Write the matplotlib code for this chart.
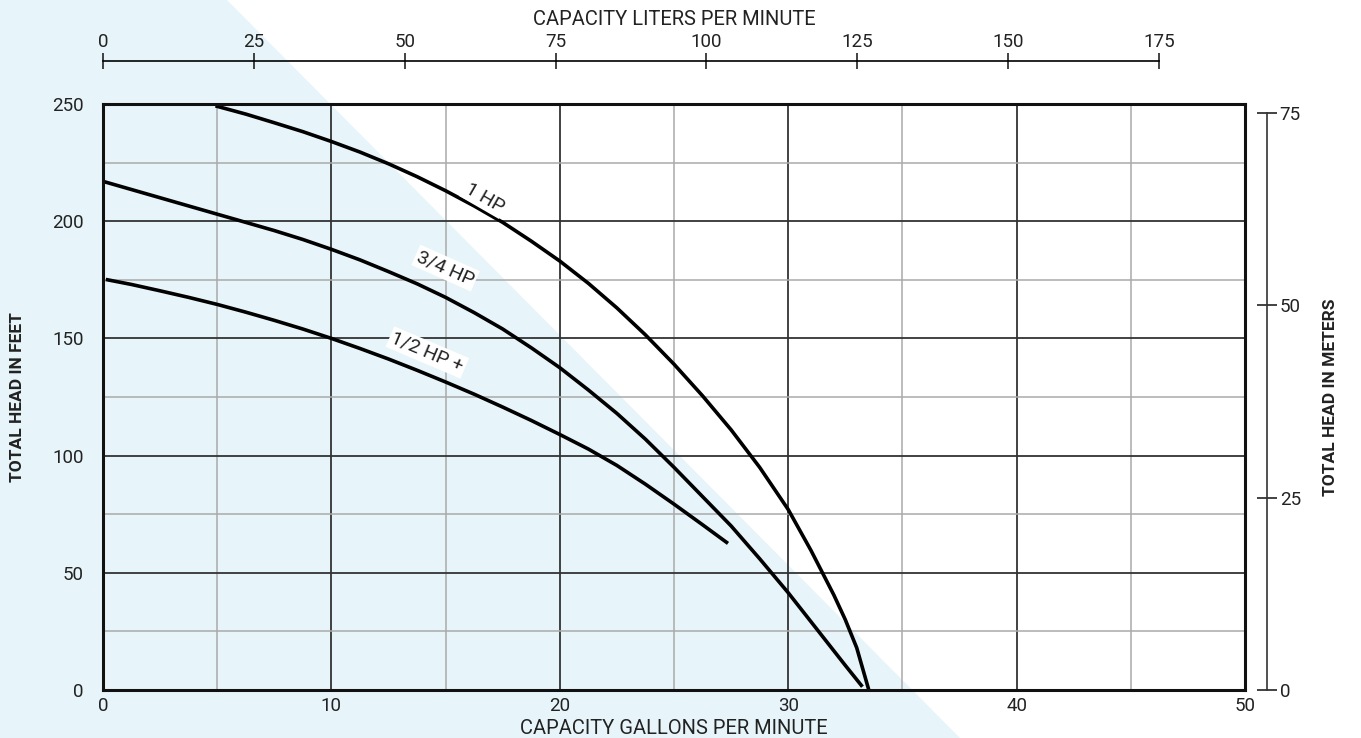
import matplotlib
matplotlib.use("Agg")
import matplotlib.pyplot as plt
from matplotlib.patches import Polygon

plt.rcParams['font.family'] = ['Roboto', 'DejaVu Sans']

# pump curves (gpm, feet)
one_hp_gpm = [5, 6.25, 7.5, 8.75, 10, 11.25, 12.5, 13.75, 15, 16.25, 17.5, 18.75, 20, 21.25,
              22.5, 23.75, 25, 26.25, 27.5, 28.75, 30, 31, 32, 32.5, 33, 33.5]
one_hp_ft = [249, 245.7, 242, 238.2, 234, 229.5, 224.5, 219, 213, 206.5, 199.5, 191.5, 183,
             173.5, 163, 151.5, 139, 125.5, 111, 95, 77, 59.5, 40.5, 30, 18, 1]

three_q_gpm = [0, 1.25, 2.5, 3.75, 5, 6.25, 7.5, 8.75, 10, 11.25, 12.5, 13.75, 15, 16.25, 17.5,
               18.75, 20, 21.25, 22.5, 23.75, 25, 26.25, 27.5, 28.75, 30, 31.25, 32.5, 33.2]
three_q_ft = [217, 213.5, 210, 206.5, 203, 199.5, 196, 192.2, 188, 183.5, 178.5, 173.3, 167.5,
              161, 154, 146, 137.5, 128, 118, 107, 95, 82.5, 70, 56, 41.5, 26, 10.5, 2]

half_gpm = [0.2, 1.25, 2.5, 3.75, 5, 6.25, 7.5, 8.75, 10, 11.25, 12.5, 13.75, 15, 16.25, 17.5,
            18.75, 20, 21.25, 22.5, 23.75, 25, 26.25, 27.3]
half_ft = [175, 173, 170.3, 167.5, 164.5, 161.2, 157.7, 154, 150, 145.7, 141.2, 136.4, 131.4,
           126.2, 120.7, 115, 109, 102.8, 95.8, 87.8, 79.3, 70.5, 63]

curve_labels = ['1 HP', '3/4 HP', '1/2 HP +']
label_pos = [(16.7, 210), (15.0, 180), (14.2, 144)]
label_rot = [-30, -24, -23]

lpm_ticks = [0, 25, 50, 75, 100, 125, 150, 175]
m_ticks = [0, 25, 50, 75]

GAL_TO_L = 3.785
FT_TO_M = 0.3048

fig = plt.figure(figsize=(13.61, 7.38), dpi=100)

# light blue diagonal background
bg = Polygon([(0, 0), (0, 1), (227 / 1361, 1), (960 / 1361, 0)], closed=True,
             transform=fig.transFigure, facecolor='#e7f5fa', edgecolor='none', zorder=-10)
fig.patches.append(bg)

ax = fig.add_axes([103 / 1361, 48 / 738, 1142 / 1361, 586 / 738])
ax.patch.set_alpha(0)
ax.set_xlim(0, 50)
ax.set_ylim(0, 250)

ax.set_xticks(range(0, 51, 10))
ax.set_xticks(range(5, 50, 10), minor=True)
ax.set_yticks(range(0, 251, 50))
ax.set_yticks(range(25, 250, 50), minor=True)
ax.grid(which='major', color='#333333', lw=1.3)
ax.grid(which='minor', color='#aaaaaa', lw=1.1)
ax.set_axisbelow(True)
ax.tick_params(which='both', length=0, labelsize=13.5, colors='#222222')
ax.tick_params(axis='x', pad=5)
ax.tick_params(axis='y', pad=14)
for s in ax.spines.values():
    s.set_linewidth(2.2)
    s.set_color('#111111')

for xs, ys in [(one_hp_gpm, one_hp_ft), (three_q_gpm, three_q_ft), (half_gpm, half_ft)]:
    ax.plot(xs, ys, color='black', lw=2.6, solid_joinstyle='round')

for txt, (x, y), r in zip(curve_labels, label_pos, label_rot):
    ax.text(x, y, txt, rotation=r, ha='center', va='center', fontsize=14,
            color='#222222', rotation_mode='anchor',
            bbox=dict(facecolor='white', edgecolor='none', pad=1.5))

ax.set_xlabel('CAPACITY GALLONS PER MINUTE', fontsize=14.5, color='#222222', labelpad=3)
ax.set_ylabel('TOTAL HEAD IN FEET', fontsize=12.5, fontweight='bold', color='#222222')
ax.yaxis.set_label_coords(-0.068, 0.5)

# top axis, liters per minute
top = ax.secondary_xaxis('top', functions=(lambda g: g * GAL_TO_L, lambda l: l / GAL_TO_L))
top.spines['top'].set_position(('outward', 31))
top.spines['top'].set_bounds(0, 175)
top.spines['top'].set_linewidth(1.2)
top.set_xticks(lpm_ticks)
top.tick_params(direction='inout', length=12, width=1.2, labelsize=13.5, colors='#222222', pad=1)
top.set_xlabel('CAPACITY LITERS PER MINUTE', fontsize=14.5, color='#222222', labelpad=6)

# right axis, meters
right = ax.secondary_yaxis('right', functions=(lambda f: f * FT_TO_M, lambda m: m / FT_TO_M))
right.spines['right'].set_position(('outward', 16))
right.spines['right'].set_bounds(0, 75)
right.spines['right'].set_linewidth(1.2)
right.spines['right'].set_color('#333333')
right.set_yticks(m_ticks)
right.tick_params(direction='inout', length=14, width=1.2, labelsize=13.5, colors='#222222', pad=2)
right.set_ylabel('TOTAL HEAD IN METERS', fontsize=12.5, fontweight='bold', color='#222222',
                 labelpad=16)

fig.savefig('out.png', dpi=100)
